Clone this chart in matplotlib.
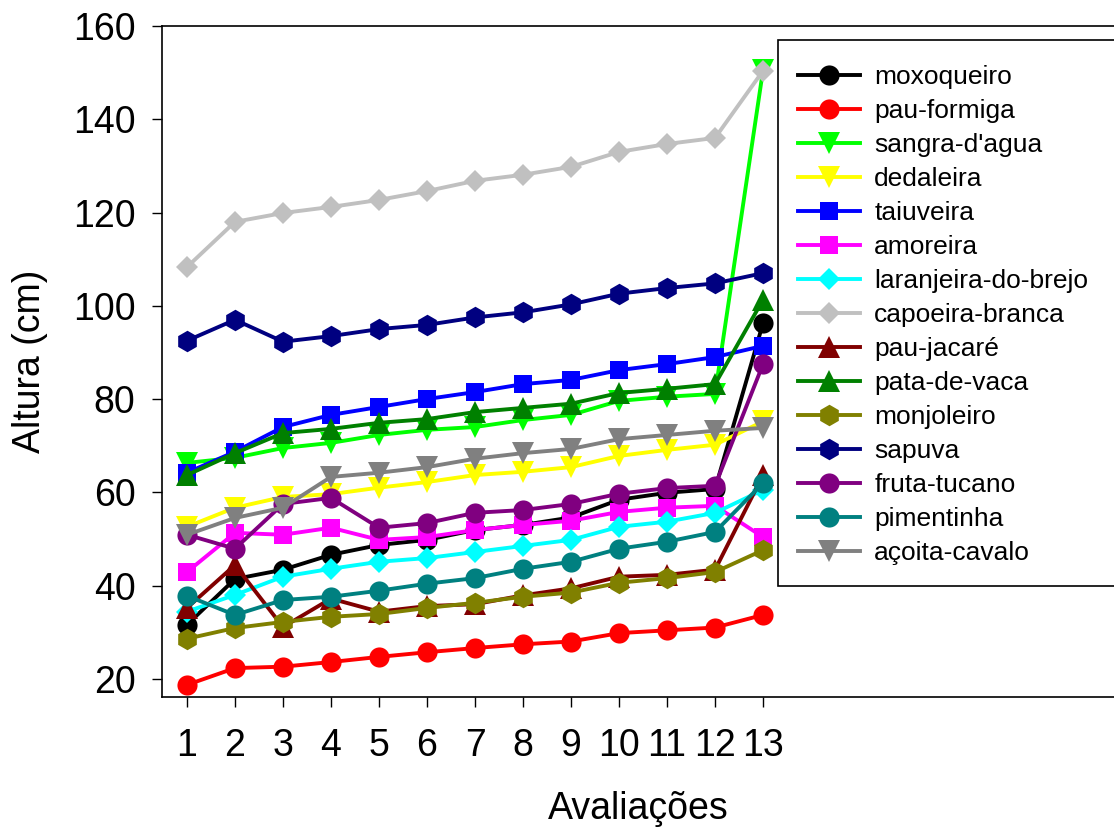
import matplotlib
matplotlib.use("Agg")
import matplotlib.pyplot as plt
from matplotlib.patches import Rectangle

plt.rcParams['font.family'] = ['Liberation Sans', 'DejaVu Sans']

avaliacoes = list(range(1, 14))

especies = [
    "moxoqueiro", "pau-formiga", "sangra-d'agua", "dedaleira", "taiuveira",
    "amoreira", "laranjeira-do-brejo", "capoeira-branca", "pau-jacaré",
    "pata-de-vaca", "monjoleiro", "sapuva", "fruta-tucano", "pimentinha",
    "açoita-cavalo",
]

moxoqueiro = [31.6, 41.4, 43.4, 46.6, 48.7, 49.8, 51.9, 53.0, 54.6, 58.4, 59.9, 60.7, 96.3]
pau_formiga = [18.7, 22.3, 22.6, 23.6, 24.7, 25.7, 26.6, 27.4, 28.0, 29.8, 30.4, 31.0, 33.7]
sangra_dagua = [66.3, 67.4, 69.5, 70.6, 72.3, 73.4, 74.0, 75.5, 76.6, 79.6, 80.5, 81.1, 150.6]
dedaleira = [52.6, 56.7, 59.0, 59.6, 61.0, 62.2, 63.7, 64.4, 65.4, 67.8, 69.1, 70.2, 75.2]
taiuveira = [64.2, 68.7, 74.0, 76.6, 78.3, 80.0, 81.5, 83.2, 84.1, 86.2, 87.5, 89.0, 91.4]
amoreira = [42.9, 51.3, 50.9, 52.4, 49.8, 50.4, 51.9, 53.0, 53.9, 55.8, 56.7, 57.1, 50.4]
laranjeira = [34.4, 38.0, 41.9, 43.6, 45.1, 45.9, 47.2, 48.5, 49.8, 52.6, 53.7, 55.6, 60.5]
capoeira = [108.3, 118.0, 119.9, 121.2, 122.7, 124.6, 126.8, 128.1, 129.8, 133.0, 134.7, 136.0, 150.4]
pau_jacare = [35.2, 44.4, 31.1, 37.2, 34.4, 35.6, 36.0, 37.9, 39.4, 41.9, 42.3, 43.4, 63.7]
pata_de_vaca = [63.7, 68.4, 72.7, 73.6, 74.9, 75.7, 77.2, 78.1, 79.0, 81.3, 82.2, 83.2, 101.3]
monjoleiro = [28.6, 30.9, 32.2, 33.3, 33.9, 35.2, 36.3, 37.6, 38.5, 40.6, 41.6, 42.9, 47.6]
sapuva = [92.5, 97.0, 92.3, 93.5, 95.0, 95.9, 97.5, 98.6, 100.3, 102.6, 103.8, 104.8, 107.0]
fruta_tucano = [50.9, 47.9, 57.5, 58.8, 52.4, 53.4, 55.6, 56.2, 57.5, 59.7, 60.9, 61.4, 87.5]
pimentinha = [37.8, 33.7, 36.9, 37.6, 38.9, 40.4, 41.6, 43.6, 45.1, 47.9, 49.4, 51.5, 62.0]
acoita_cavalo = [50.9, 54.5, 56.7, 63.3, 64.2, 65.4, 67.2, 68.4, 69.3, 71.4, 72.3, 73.2, 73.8]

series = [moxoqueiro, pau_formiga, sangra_dagua, dedaleira, taiuveira, amoreira,
          laranjeira, capoeira, pau_jacare, pata_de_vaca, monjoleiro, sapuva,
          fruta_tucano, pimentinha, acoita_cavalo]

cores = ["black", "red", "#00FF00", "#FFFF00", "#0000FF", "#FF00FF", "#00FFFF",
         "#C0C0C0", "#800000", "#008000", "#808000", "#000080", "#800080",
         "#008080", "#808080"]
marcadores = ["o", "o", "v", "v", "s", "s", "D", "D", "^", "^", "h", "h", "o", "o", "v"]
tamanhos = {"o": 14.5, "v": 15.5, "^": 15.5, "s": 13.5, "D": 11.5, "h": 15.5}

fig = plt.figure(figsize=(11.14, 8.32), dpi=100)
ax = fig.add_axes([162 / 1114, 135 / 832, 952 / 1114, 671 / 832])

for nome, valores, cor, mk in zip(especies, series, cores, marcadores):
    ax.plot(avaliacoes, valores, color=cor, marker=mk, markersize=tamanhos[mk],
            linewidth=2.8, markeredgewidth=0, label=nome)

ax.set_xlim(0.48, 20.31)
ax.set_ylim(16.1, 160)
ax.set_xticks(avaliacoes)
ax.set_yticks(range(20, 161, 20))
ax.spines['right'].set_visible(False)
for s in ('left', 'bottom', 'top'):
    ax.spines[s].set_linewidth(1.2)
ax.tick_params(axis='both', direction='out', length=7, width=1.0,
               labelsize=27, pad=12)
ax.tick_params(axis='x', pad=15)

ax.set_xlabel("Avaliações", fontsize=27, labelpad=20)
ax.set_ylabel("Altura (cm)", fontsize=27, labelpad=18)

# caixa da legenda aberta à direita (continua além da borda da figura)
fig.patches.append(Rectangle((778 / 1114, 1 - 586 / 832), 0.5, 546 / 832,
                             transform=fig.transFigure, facecolor='white',
                             edgecolor='black', linewidth=1.2, zorder=2))

leg = fig.legend(loc='upper left', bbox_to_anchor=(778 / 1114, 1 - 45 / 832),
                 fontsize=19, frameon=False, handlelength=2.35,
                 handletextpad=0.55, labelspacing=0.38, borderpad=0.75,
                 borderaxespad=0)
leg.set_zorder(3)

fig.savefig("out.png", dpi=100)
